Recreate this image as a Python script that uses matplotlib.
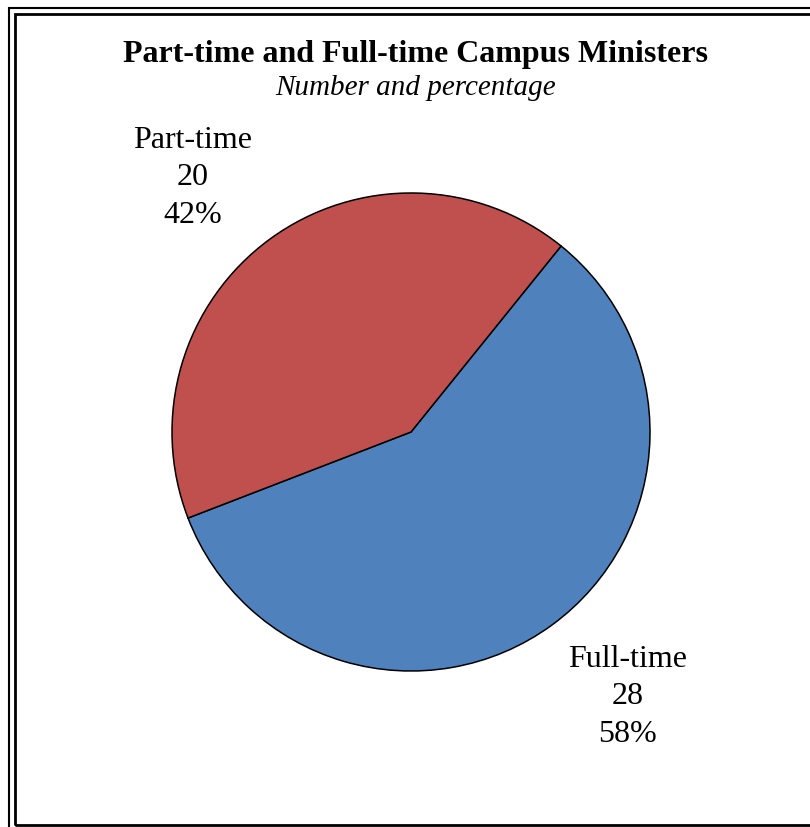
import matplotlib.pyplot as plt
from matplotlib.patches import Rectangle
import numpy as np

categories = ['Full-time', 'Part-time']
counts = [28, 20]
colors = ['#4F81BD', '#C0504D']
title = 'Part-time and Full-time Campus Ministers'
subtitle = 'Number and percentage'

W, H = 810, 827
fig = plt.figure(figsize=(W / 100, H / 100), dpi=100)
plt.rcParams['font.family'] = ['Liberation Serif', 'DejaVu Serif']

# double frame (right and bottom run off the picture)
fig.patches.append(Rectangle((9 / W, -0.05), 1.1, 1 - 8 / H + 0.05, transform=fig.transFigure,
                             fill=False, edgecolor='black', linewidth=1.5))
fig.patches.append(Rectangle((14.5 / W, 1 - 825 / H), 1.1, (825 - 13.5) / H, transform=fig.transFigure,
                             fill=False, edgecolor='black', linewidth=2.0))

fig.text(415 / W, 1 - 62 / H, title, ha='center', va='baseline', fontsize=23, fontweight='bold')
fig.text(416 / W, 1 - 95 / H, subtitle, ha='center', va='baseline', fontsize=21, style='italic')

# pie
cx, cy, r = 411, 432, 239
ax = fig.add_axes([(cx - r) / W, (H - cy - r) / H, 2 * r / W, 2 * r / H])
ax.pie(counts, colors=colors, startangle=51.1, counterclock=False, radius=1,
       wedgeprops=dict(edgecolor='black', linewidth=1.1))
ax.set_xlim(-1, 1)
ax.set_ylim(-1, 1)
ax.set_axis_off()

total = sum(counts)
label_pos = [(0.905, -1.108), (-0.914, 1.063)]
for name, n, (lx, ly) in zip(categories, counts, label_pos):
    ax.text(lx, ly, f'{name}\n{n}\n{round(100 * n / total)}%', ha='center', va='center',
            fontsize=23, linespacing=1.4, clip_on=False)

fig.savefig('out.png', dpi=100)
